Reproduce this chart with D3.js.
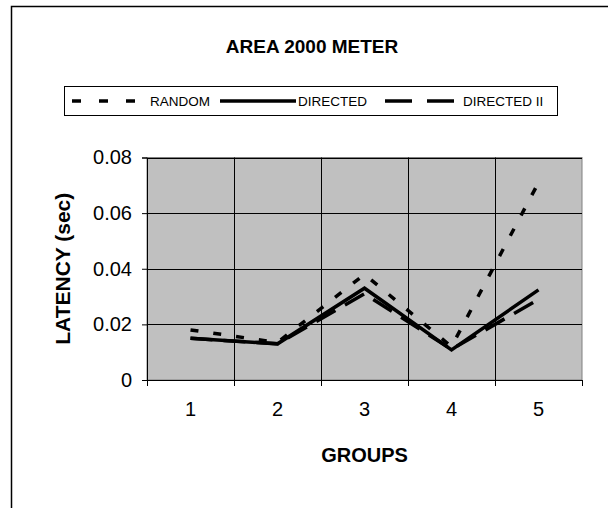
<!DOCTYPE html>
<html>
  <head>
    <meta charset="utf-8">
    <title>AREA 2000 METER</title>
    <script src="https://d3js.org/d3.v7.min.js"></script>
    <style>
      body { margin: 0; background: #fff; }
      text { font-family: "Liberation Sans", Arial, sans-serif; fill: #000; }
    </style>
  </head>
  <body>
    <div id="chart"></div>
  </body>
  <script>
  // data
  var groups     = ["1", "2", "3", "4", "5"];
  var random     = [0.018, 0.0135, 0.038, 0.012, 0.071];
  var directed   = [0.015, 0.013, 0.033, 0.0108, 0.0324];
  var directedII = [0.015, 0.013, 0.031, 0.011, 0.029];
  var yTicks     = [0, 0.02, 0.04, 0.06, 0.08];

  var series = [
    {name: "RANDOM",      values: random,     dash: "8,15"},
    {name: "DIRECTED",    values: directed,   dash: null},
    {name: "DIRECTED II", values: directedII, dash: "22,11"}
  ];

  var W = 608, H = 508;
  var plot = {left: 147, right: 582, top: 157.5, bottom: 380};

  var svg = d3.select("#chart")
      .append("svg")
      .attr("width", W)
      .attr("height", H);

  // outer frame (only left and top visible)
  svg.append("path")
      .attr("d", "M11.5," + H + "V6.5H" + W)
      .attr("fill", "none")
      .attr("stroke", "#000")
      .attr("stroke-width", 1.5);

  var x = d3.scaleBand().domain(groups).range([plot.left, plot.right]).padding(0);
  var xb = d3.scaleLinear().domain([0, groups.length]).range([plot.left, plot.right]);
  var y = d3.scaleLinear().domain([0, 0.08]).range([plot.bottom, plot.top]);

  // plot area
  svg.append("rect")
      .attr("x", plot.left)
      .attr("y", plot.top)
      .attr("width", plot.right - plot.left)
      .attr("height", plot.bottom - plot.top)
      .attr("fill", "#c0c0c0")
      .attr("stroke", "#808080")
      .attr("stroke-width", 1);

  // grid lines
  svg.selectAll(".hgrid")
      .data(yTicks.slice(1))
      .enter()
      .append("line")
      .attr("x1", plot.left)
      .attr("x2", plot.right)
      .attr("y1", d => Math.round(y(d)) + 0.5)
      .attr("y2", d => Math.round(y(d)) + 0.5)
      .attr("stroke", "#000")
      .attr("stroke-width", 1);
  svg.selectAll(".vgrid")
      .data(d3.range(1, groups.length))
      .enter()
      .append("line")
      .attr("x1", d => Math.round(xb(d)) + 0.5)
      .attr("x2", d => Math.round(xb(d)) + 0.5)
      .attr("y1", plot.top)
      .attr("y2", plot.bottom)
      .attr("stroke", "#000")
      .attr("stroke-width", 1);

  // y axis
  var yAxis = svg.append("g")
      .attr("transform", "translate(" + plot.left + ",0)")
      .call(d3.axisLeft(y)
        .tickValues(yTicks)
        .tickSize(5)
        .tickPadding(10)
        .tickFormat(d => d === 0 ? "0" : d.toFixed(2)));
  yAxis.selectAll("text").style("font-size", "20px").attr("fill", "#000");
  yAxis.select(".domain").attr("stroke", "#000");

  // x axis: ticks on category boundaries, labels at centres
  var xTicks = svg.append("g")
      .attr("transform", "translate(0," + plot.bottom + ")")
      .call(d3.axisBottom(xb)
        .tickValues(d3.range(0, groups.length + 1))
        .tickSize(6)
        .tickSizeOuter(6)
        .tickFormat(""));
  xTicks.select(".domain").attr("stroke", "#000");

  var xLabels = svg.append("g")
      .attr("transform", "translate(0," + plot.bottom + ")")
      .call(d3.axisBottom(x).tickSize(0).tickPadding(22));
  xLabels.select(".domain").remove();
  xLabels.selectAll("text").style("font-size", "20px").attr("fill", "#000");

  // series lines
  var line = d3.line()
      .x((d, i) => x(groups[i]) + x.bandwidth() / 2)
      .y(d => y(d));

  svg.selectAll(".series")
      .data(series)
      .enter()
      .append("path")
      .attr("d", d => line(d.values))
      .attr("fill", "none")
      .attr("stroke", "#000")
      .attr("stroke-width", 3.5)
      .attr("stroke-dasharray", d => d.dash);

  // titles
  svg.append("text")
      .attr("x", 312)
      .attr("y", 53)
      .attr("text-anchor", "middle")
      .style("font-size", "19px")
      .style("font-weight", "bold")
      .text("AREA 2000 METER");

  svg.append("text")
      .attr("x", (plot.left + plot.right) / 2)
      .attr("y", 462)
      .attr("text-anchor", "middle")
      .style("font-size", "20px")
      .style("font-weight", "bold")
      .text("GROUPS");

  svg.append("text")
      .attr("transform", "translate(70," + (plot.top + plot.bottom) / 2 + ") rotate(-90)")
      .attr("text-anchor", "middle")
      .style("font-size", "21px")
      .style("font-weight", "bold")
      .text("LATENCY (sec)");

  // legend
  var legend = svg.append("g");
  legend.append("rect")
      .attr("x", 64.5)
      .attr("y", 86.5)
      .attr("width", 493)
      .attr("height", 29)
      .attr("fill", "#fff")
      .attr("stroke", "#000")
      .attr("stroke-width", 1);

  var legendX = [72, 220, 385];
  var item = legend.selectAll(".item")
      .data(series)
      .enter()
      .append("g")
      .attr("transform", (d, i) => "translate(" + legendX[i] + ",101)");
  item.append("line")
      .attr("x1", 0)
      .attr("x2", 76)
      .attr("stroke", "#000")
      .attr("stroke-width", 3.5)
      .attr("stroke-dasharray", (d, i) => i === 0 ? "9,18" : d.dash ? "27,15" : null);
  item.append("text")
      .attr("x", 78)
      .attr("y", 5)
      .style("font-size", "13.5px")
      .text(d => d.name);
  </script>
</html>
